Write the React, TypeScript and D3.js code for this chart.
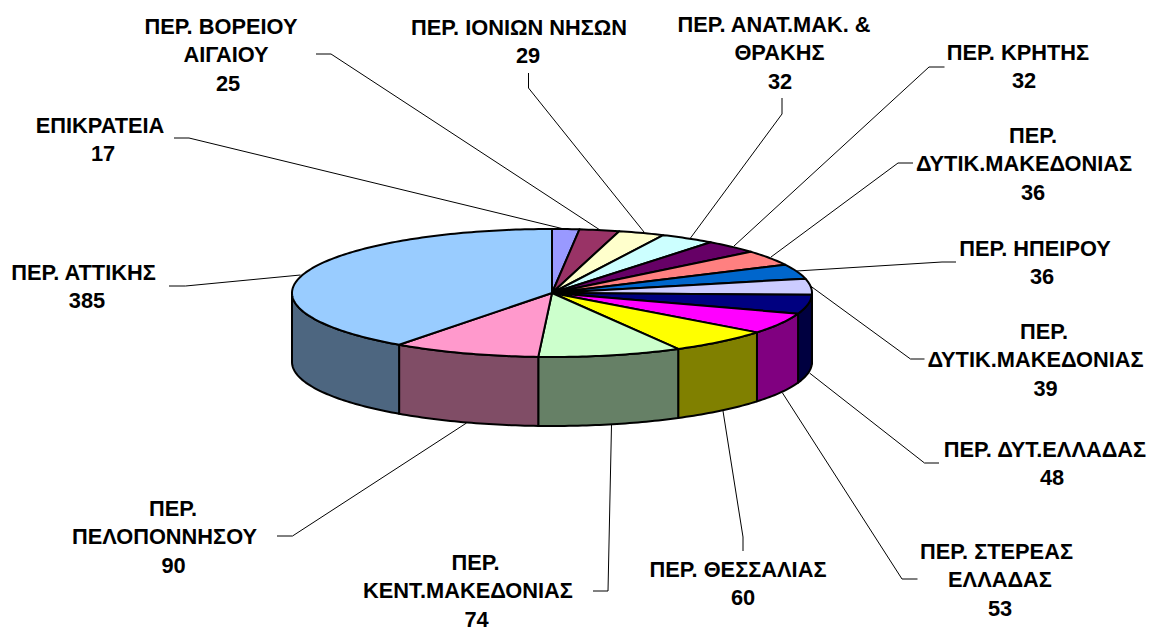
import React from "react";
import * as d3 from "d3";

// Series, clockwise from 12 o'clock
const regions: string[][] = [
  ["ΕΠΙΚΡΑΤΕΙΑ"],
  ["ΠΕΡ. ΒΟΡΕΙΟΥ", "ΑΙΓΑΙΟΥ"],
  ["ΠΕΡ. ΙΟΝΙΩΝ ΝΗΣΩΝ"],
  ["ΠΕΡ. ΑΝΑΤ.ΜΑΚ. &", "ΘΡΑΚΗΣ"],
  ["ΠΕΡ. ΚΡΗΤΗΣ"],
  ["ΠΕΡ.", "ΔΥΤΙΚ.ΜΑΚΕΔΟΝΙΑΣ"],
  ["ΠΕΡ. ΗΠΕΙΡΟΥ"],
  ["ΠΕΡ.", "ΔΥΤΙΚ.ΜΑΚΕΔΟΝΙΑΣ"],
  ["ΠΕΡ. ΔΥΤ.ΕΛΛΑΔΑΣ"],
  ["ΠΕΡ. ΣΤΕΡΕΑΣ", "ΕΛΛΑΔΑΣ"],
  ["ΠΕΡ. ΘΕΣΣΑΛΙΑΣ"],
  ["ΠΕΡ.", "ΚΕΝΤ.ΜΑΚΕΔΟΝΙΑΣ"],
  ["ΠΕΡ.", "ΠΕΛΟΠΟΝΝΗΣΟΥ"],
  ["ΠΕΡ. ΑΤΤΙΚΗΣ"],
];
const values = [17, 25, 29, 32, 32, 36, 36, 39, 48, 53, 60, 74, 90, 385];
const colors = [
  "#9999FF", "#993366", "#FFFFCC", "#CCFFFF", "#660066", "#FF8080", "#0066CC",
  "#CCCCFF", "#000080", "#FF00FF", "#FFFF00", "#CCFFCC", "#FF99CC", "#99CCFF",
];

// Label layout: centre x of each text line, y of first line
const labelX: number[][] = [
  [100, 103], [221, 226, 228], [519, 528], [774, 779.5, 780], [1018, 1024],
  [1033, 1024, 1033], [1035, 1042], [1044, 1035.5, 1045.5], [1045, 1052],
  [996.5, 1000, 1000], [738, 743], [475.5, 468, 476.5], [173, 164.5, 173.5], [83.5, 87],
];
const labelY = [125, 26, 27, 24, 52, 135, 248, 331, 449, 551, 569, 562, 508, 272];

// Leader lines: label end, elbow, pie end
const leaders: [number, number][][] = [
  [[174, 138], [189, 138], [564, 229]],
  [[316, 54], [331, 54], [600, 230]],
  [[528.5, 73], [528.5, 88], [644, 232]],
  [[782, 98], [782, 114], [690.5, 238]],
  [[944.5, 67], [929, 67], [734, 246]],
  [[913, 163], [898, 163], [771, 257]],
  [[956, 262], [942, 262], [796.5, 271]],
  [[924.5, 359], [910.5, 359], [810.5, 286]],
  [[939, 463], [924.5, 463], [809.5, 373]],
  [[917.5, 579], [902, 579], [782.5, 393]],
  [[743, 551], [743, 537], [723, 411]],
  [[593, 591], [608, 591], [611.5, 425]],
  [[277, 536], [292.5, 536], [466.5, 423]],
  [[169, 286], [185.5, 286], [300.5, 275]],
];

const cx = 552, cy = 293, rx = 260, ry = 64, depth = 69;

// Pseudo-3D projection of the flat pie angle (degrees) as seen in the picture
const warp = d3.scaleLinear()
  .domain([0, 26.7, 64.4, 92.6, 130.7, 153.3, 181.1, 215, 360])
  .range([0, 25.3, 63.7, 91.5, 128, 151, 183, 216, 360]);

const pt = (deg: number, dy = 0): [number, number] => {
  const a = (deg * Math.PI) / 180;
  return [cx + rx * Math.sin(a), cy - ry * Math.cos(a) + dy];
};
const lineGen = d3.line();
const arcPts = (a0: number, a1: number, dy = 0) => {
  const n = Math.max(2, Math.ceil(Math.abs(a1 - a0)));
  return d3.range(n + 1).map((i) => pt(a0 + ((a1 - a0) * i) / n, dy));
};

const pieGen = d3.pie<number>().sort(null).value((d) => d);
const slices = pieGen(values).map((s, i) => ({
  i,
  a0: warp((s.startAngle * 180) / Math.PI),
  a1: warp((s.endAngle * 180) / Math.PI),
}));

const half = (c: string) => {
  const r = d3.rgb(c);
  return d3.rgb(r.r / 2, r.g / 2, r.b / 2).formatHex();
};

const font = "'Liberation Sans', Arial, sans-serif";
const lineStep = 28.7;

export default function App() {
  return (
    <svg
      width={1150}
      height={628}
      style={{ position: "fixed", left: 0, top: 0, background: "#fff" }}
    >
      {leaders.map((l, i) => (
        <path key={i} d={lineGen(l) ?? ""} fill="none" stroke="#000" strokeWidth={1} />
      ))}
      {/* walls */}
      {slices.map((s) => {
        const a0 = Math.max(s.a0, 90);
        const a1 = Math.min(s.a1, 270);
        if (a1 <= a0) return null;
        const top = arcPts(a0, a1);
        const bot = arcPts(a1, a0, depth);
        return (
          <path
            key={s.i}
            d={(lineGen([...top, ...bot]) ?? "") + "Z"}
            fill={half(colors[s.i])}
            stroke="#000"
            strokeWidth={2}
            strokeLinejoin="round"
          />
        );
      })}
      {/* top face */}
      {slices.map((s) => (
        <path
          key={s.i}
          d={(lineGen([[cx, cy], ...arcPts(s.a0, s.a1)]) ?? "") + "Z"}
          fill={colors[s.i]}
          stroke="#000"
          strokeWidth={2}
          strokeLinejoin="round"
        />
      ))}
      {regions.map((lines, i) => {
        const all = [...lines, String(values[i])];
        return all.map((t, j) => (
          <text
            key={`${i}-${j}`}
            x={labelX[i][j]}
            y={labelY[i] + j * lineStep + 7.5}
            textAnchor="middle"
            fontFamily={font}
            fontWeight="bold"
            fontSize={21.8}
            fill="#000"
          >
            {t}
          </text>
        ));
      })}
    </svg>
  );
}
